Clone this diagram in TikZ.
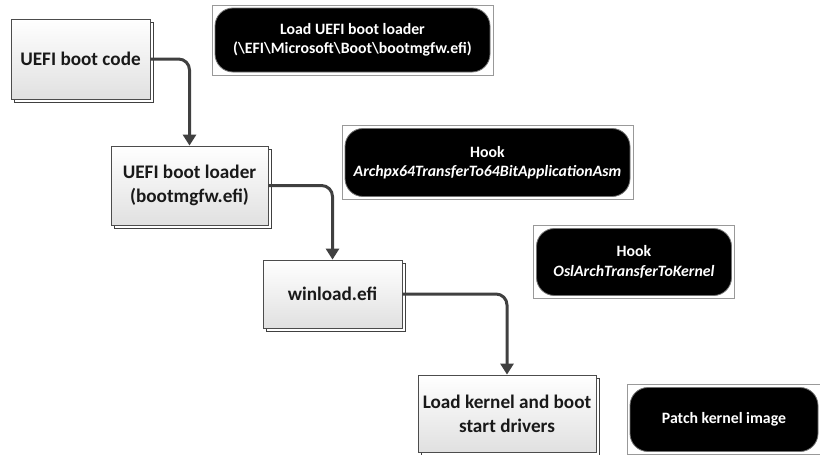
\documentclass[tikz,border=0pt]{standalone}
\usepackage{fontspec}
\setmainfont{Carlito}
\usetikzlibrary{arrows.meta,shadows}

\begin{document}
\begin{tikzpicture}[x=1pt,y=-1pt,
  stepbox/.style={rectangle, draw=black!70, line width=0.8pt,
    top color=white, bottom color=black!12,
    copy shadow={shadow xshift=3.5pt, shadow yshift=-3.5pt, fill=white, draw=black!75, line width=0.8pt},
    font=\fontsize{19.2}{24}\selectfont\bfseries, text=black!90,
    align=center, inner sep=0pt},
  hookbox/.style={rectangle, rounded corners=18pt, fill=black, draw=black!55, line width=0.8pt,
    text=white, font=\fontsize{15.8}{19.5}\selectfont\bfseries, align=center, inner sep=0pt},
  hookframe/.style={draw=black!40, line width=0.7pt},
  flow/.style={draw=black!75, line width=3pt, rounded corners=11pt,
    -{Triangle[width=13pt,length=11pt]}}
]
\useasboundingbox (0,0) rectangle (820,455);

% main boot chain
\node[stepbox, minimum width=139pt, minimum height=80pt] (b1) at (80.5,59) {UEFI boot code};
\node[stepbox, minimum width=157pt, minimum height=79pt] (b2) at (189.5,185.5) {UEFI boot loader\\(bootmgfw.efi)};
\node[stepbox, minimum width=139pt, minimum height=68pt] (b3) at (332.5,294) {winload.efi};
\node[stepbox, minimum width=178pt, minimum height=77pt] (b4) at (507,413.5) {Load kernel and boot\\start drivers};

% annotations of what happens at each stage
\node[hookbox, minimum width=275pt, minimum height=64pt] (ha) at (352.5,40)
  {Load UEFI boot loader\\(\textbackslash EFI\textbackslash Microsoft\textbackslash Boot\textbackslash bootmgfw.efi)};
\node[hookbox, minimum width=285pt, minimum height=68pt] (hb) at (487.5,162.5)
  {Hook\\\textit{Archpx64TransferTo64BitApplicationAsm}};
\node[hookbox, minimum width=195pt, minimum height=67pt] (hc) at (634,262)
  {Hook\\\textit{OslArchTransferToKernel}};
\node[hookbox, minimum width=188pt, minimum height=64pt] (hd) at (724,419.5)
  {Patch kernel image};

\foreach \n in {ha,hb,hc,hd}
  \draw[hookframe] ([shift={(-2.5,-2.5)}]\n.north west) rectangle ([shift={(2.5,2.5)}]\n.south east);

% flow between stages
\draw[flow] (b1.east) -| (b2.north);
\draw[flow] (b2.east) -| (b3.north);
\draw[flow] (b3.east) -| (b4.north);
\end{tikzpicture}
\end{document}
